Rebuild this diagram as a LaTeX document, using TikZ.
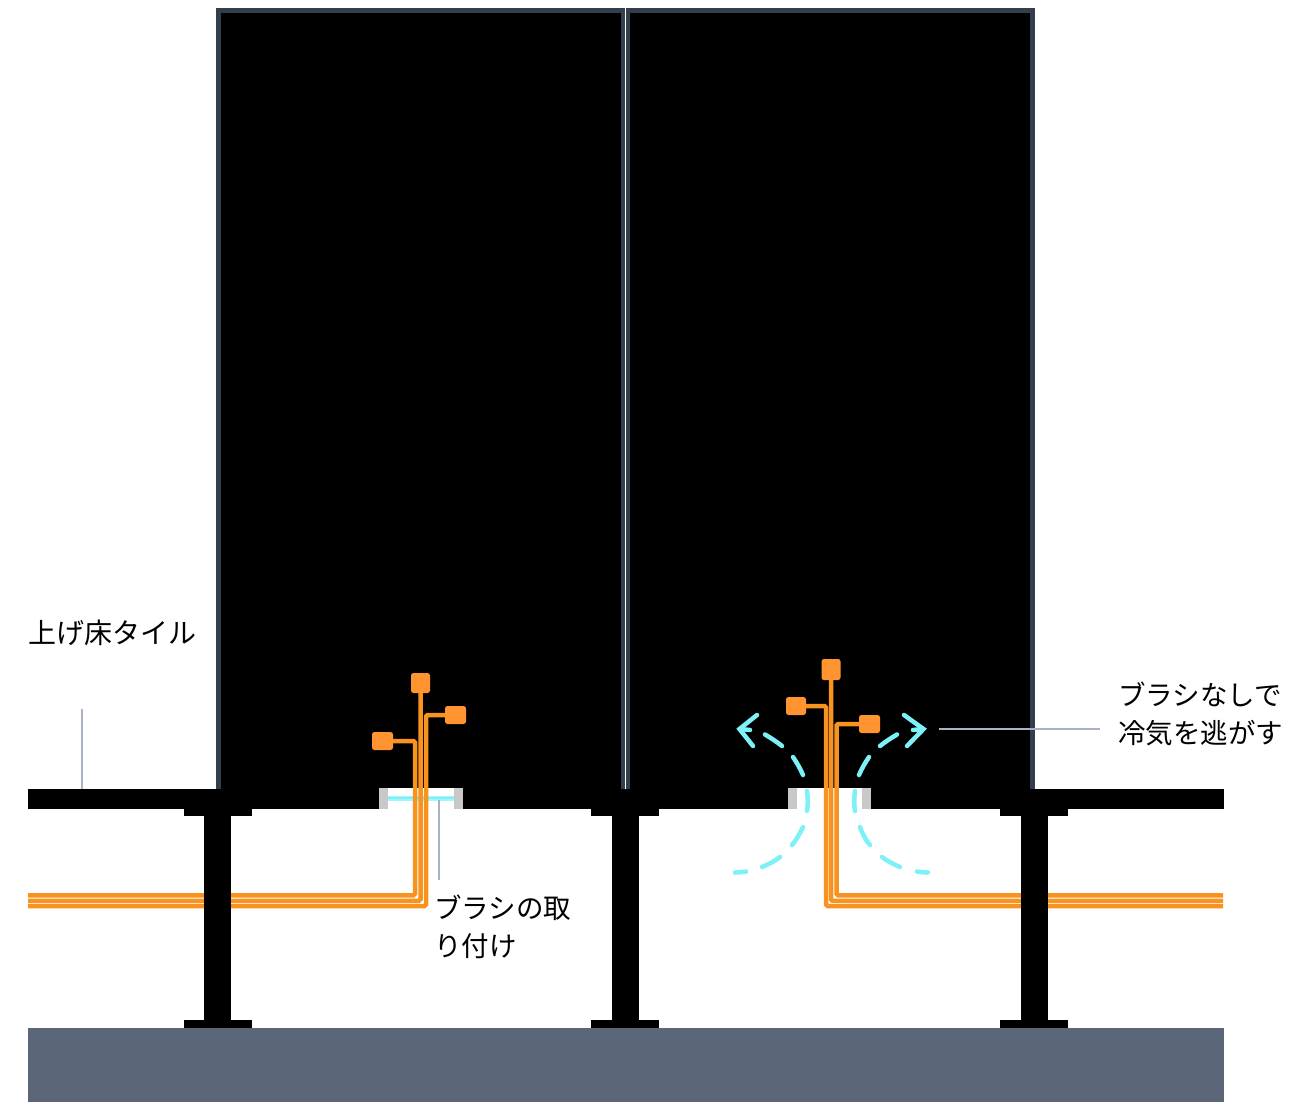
\documentclass[tikz,border=0pt]{standalone}
\usepackage{fontspec}
\setmainfont{Noto Sans CJK JP}
\definecolor{frameC}{HTML}{333F4D}
\definecolor{groundC}{HTML}{5B6679}
\definecolor{wireC}{HTML}{F7931E}
\definecolor{boxC}{HTML}{FF9430}
\definecolor{airC}{HTML}{7DF0F8}
\definecolor{leadC}{HTML}{A9B3C2}
\definecolor{slotC}{HTML}{C8C8C8}
\tikzset{
  panel/.style={fill=black,draw=none},
  framed/.style={fill=frameC,draw=none},
  wire/.style={draw=wireC,line width=4.5pt,rounded corners=1.5pt},
  sensor/.style={fill=boxC,draw=none,rounded corners=2.5pt,inner sep=0pt,minimum width=#1},
  sensor/.default=20pt,
  air/.style={draw=airC,line width=4.5pt,line cap=round},
  leader/.style={draw=leadC,line width=2pt},
  lab/.style={font=\fontsize{27.5}{38}\selectfont,align=left,anchor=west,inner sep=0pt,text=black}
}
\begin{document}
\begin{tikzpicture}[x=1pt,y=-1pt]
\useasboundingbox (0,0) rectangle (1316,1102);
\fill[white] (0,0) rectangle (1316,1102);
% panels
\fill[framed] (216,8) rectangle (625,789);
\fill[panel] (221,13) rectangle (621,809);
\fill[framed] (626,8) rectangle (1035,789);
\fill[panel] (630,13) rectangle (1030,809);
% floor
\fill[panel] (28,789) rectangle (1224,809);
% slots
\fill[white] (379,788) rectangle (463,809);
\fill[slotC] (379,788) rectangle (388,809);
\fill[slotC] (454,788) rectangle (463,809);
\fill[white] (788,788) rectangle (871,809);
\fill[slotC] (788,788) rectangle (797,809);
\fill[slotC] (862,788) rectangle (871,809);
% brush
\draw[airC!70!white,line width=5pt] (388,798) -- (454,798);
\draw[airC,line width=2.5pt] (388,798) -- (454,798);
% ground
\fill[groundC] (28,1028) rectangle (1224,1102);
% sensors
\node[sensor=19pt,minimum height=20pt] (sLa) at (420.5,683) {};
\node[sensor=21pt,minimum height=18pt] (sLb) at (455.5,715) {};
\node[sensor=21pt,minimum height=18pt] (sLc) at (382.5,741) {};
\node[sensor=19pt,minimum height=21pt] (sRa) at (831,669.5) {};
\node[sensor=20pt,minimum height=18pt] (sRb) at (796,706) {};
\node[sensor=21pt,minimum height=18pt] (sRc) at (869.5,724) {};
% wire end points
\coordinate (eL1) at (28,895.3);
\coordinate (eL2) at (28,900.8);
\coordinate (eL3) at (28,906);
\coordinate (eR1) at (1223,895.3);
\coordinate (eR2) at (1223,900.8);
\coordinate (eR3) at (1223,906);
\coordinate (bL1) at (415,741);
\coordinate (bL3) at (426,715);
\coordinate (bR1) at (826,706);
\coordinate (bR3) at (836.5,724);
% wires
\draw[wire] (eL1) -| (bL1) -- (sLc.east);
\draw[wire] (eL2) -| (sLa.south);
\draw[wire] (eL3) -| (bL3) -- (sLb.west);
\draw[wire] (eR3) -| (bR1) -- (sRb.east);
\draw[wire] (eR2) -| (sRa.south);
\draw[wire] (eR1) -| (bR3) -- (sRc.west);
% columns
\foreach \fx/\cx in {218/217.5,625/625.5,1034/1034.5}{
  \fill[panel] ({\fx-34},809) rectangle ({\fx+34},816);
  \fill[panel] ({\cx-13.5},809) rectangle ({\cx+13.5},1021);
  \fill[panel] ({\fx-34},1020) rectangle ({\fx+34},1028);
}
% cold air
\draw[air] (735,872.5) .. controls (739,872.5) and (743,872) .. (746,871.5);
\draw[air] (762,867) .. controls (769,864) and (775,861) .. (780,857);
\draw[air] (792,845) .. controls (797,839) and (800,833) .. (803,827);
\draw[air] (807,791) .. controls (808,797) and (808,805) .. (807,811);
\draw[air] (803,775) .. controls (800,768) and (797,763) .. (793,757);
\draw[air] (782,746) .. controls (777,742) and (771,738) .. (765,734.5);
\draw[air] (757,715) -- (739.5,729) -- (753,746);
\draw[air] (740,729) -- (750,730);
\draw[air] (928,872.5) .. controls (924,872.5) and (920,872) .. (917,871.5);
\draw[air] (900,867) .. controls (893,864) and (887,861) .. (882,857);
\draw[air] (870,845) .. controls (865,839) and (862,833) .. (860,827);
\draw[air] (855,791) .. controls (854,797) and (854,805) .. (855,811);
\draw[air] (859,775) .. controls (862,768) and (865,763) .. (869,757);
\draw[air] (880,746) .. controls (885,742) and (891,738) .. (897,734.5);
\draw[air] (904,715) -- (923.5,729) -- (907,746);
\draw[air] (923,729) -- (913,730);
% labels
\node[lab,font=\fontsize{28}{38}\selectfont] (tTile) at (28.5,633) {上げ床タイル};
\node[lab] (tBrush) at (434,927) {ブラシの取\\り付け};
\node[lab] (tAir) at (1118,714) {ブラシなしで\\冷気を逃がす};
% leaders
\coordinate (lA1) at (82,709);
\coordinate (lA2) at (82,789);
\coordinate (lB1) at (439,800);
\coordinate (lB2) at (439,880);
\coordinate (lC1) at (939,728.5);
\coordinate (lC2) at (1100,728.5);
\draw[leader] (lA1) -- (lA2);
\draw[leader] (lB1) -- (lB2);
\draw[leader] (lC1) -- (lC2);
\end{tikzpicture}
\end{document}
